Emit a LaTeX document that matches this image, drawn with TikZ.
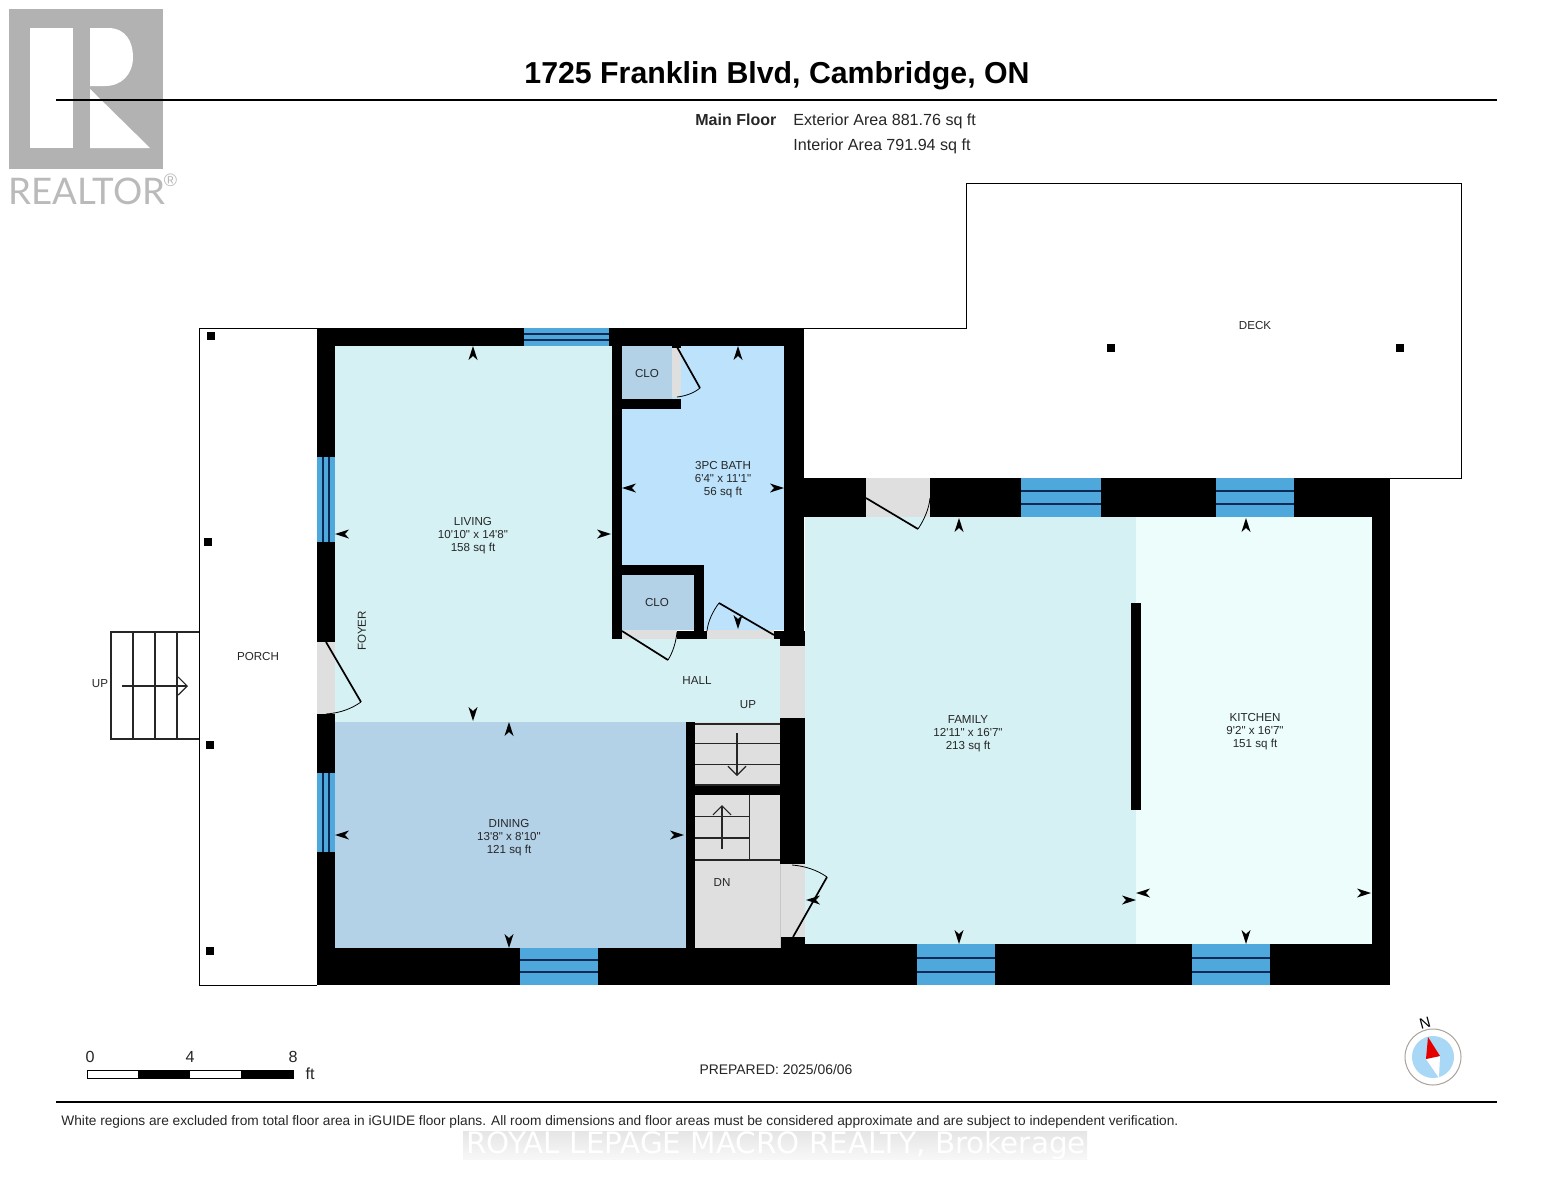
\documentclass[tikz,border=0pt]{standalone}
\usepackage{fontspec}
\newfontfamily\arialf{Liberation Sans}
\newfontfamily\latof{Lato}
\newfontfamily\dejaf{DejaVu Sans}
\definecolor{livc}{HTML}{D6F1F3}
\definecolor{dinc}{HTML}{B3D2E8}
\definecolor{bathc}{HTML}{BDE3FC}
\definecolor{kitc}{HTML}{ECFDFC}
\definecolor{grayc}{HTML}{DFDFDF}
\definecolor{winc}{HTML}{4EA8DC}
\definecolor{winl}{HTML}{0B2A55}
\definecolor{logoc}{HTML}{B2B2B2}
\definecolor{compc}{HTML}{A8D8F5}
\definecolor{ringc}{HTML}{A9A39A}
\tikzset{
  lab/.style={font=\arialf\fontsize{5.8}{6.6}\selectfont,align=center,inner sep=0pt,text=black!85},
  wall/.style={fill=black,draw=none},
  door/.style={draw=black,line width=.85pt},
  swing/.style={draw=black,line width=.4pt},
  stair/.style={draw=black!85,line width=.7pt},
  winline/.style={draw=winl,line width=.55pt},
  openhead/.style={-{Straight Barb[length=4.5pt,width=9pt,line width=.6pt]}},
  info/.style={font=\arialf\fontsize{8.05}{9}\selectfont,inner sep=0pt,text=black!85}
}
\usetikzlibrary{arrows.meta}
\newcommand\rc[5][]{\fill[#1] (#2,#3) rectangle (#4,#5);}
\newcommand\mk[4]{\fill[black] ({#1+7*#3},{#2+7*#4}) -- ({#1-7*#3+4.5*#4},{#2-7*#4-4.5*#3}) -- ({#1-3*#3},{#2-3*#4}) -- ({#1-7*#3-4.5*#4},{#2-7*#4+4.5*#3}) -- cycle;}
\newcommand\post[2]{\fill[black] (#1-4,#2-4) rectangle (#1+4,#2+4);}
\begin{document}
\begin{tikzpicture}[x=.5pt,y=-.5pt,line join=miter]
\useasboundingbox (0,0) rectangle (1553,1200);
\fill[white] (0,0) rectangle (1553,1200);
% logo
\fill[logoc] (9,9) rectangle (163,169);
\fill[white] (30,28) rectangle (73,148);
\fill[white] (90,28) -- (108,28) .. controls (126,28) and (133,42) .. (133,57) .. controls (133,74) and (122,86) .. (105,86) -- (90,86) -- cycle;
\fill[white] (90,89) -- (150,148) -- (90,148) -- cycle;
\node[anchor=west,inner sep=0pt,text=logoc!90,font=\latof\fontsize{18.3}{20}\selectfont] (realtor) at (8,191) {REALTOR};
\node[inner sep=0pt,text=logoc!90,font=\arialf\fontsize{9}{10}\selectfont] (reg) at (170.5,180) {®};
% header
\draw[black,line width=1.4pt] (56,100) -- (1497,100);
\node[inner sep=0pt,font=\arialf\bfseries\fontsize{15.15}{16}\selectfont] (title) at (777,75.5) {1725 Franklin Blvd, Cambridge, ON};
\node[info,anchor=west,font=\arialf\bfseries\fontsize{8}{9}\selectfont] (mainf) at (695,120) {Main Floor};
\node[info,anchor=west] (ext) at (793,121) {Exterior Area 881.76 sq ft};
\node[info,anchor=west] (int) at (793,146) {Interior Area 791.94 sq ft};
% deck and porch outlines
\draw[black,line width=.5pt] (804,328) -- (966,328) -- (966,183) -- (1461,183) -- (1461,478) -- (1390,478);
\draw[black,line width=.5pt] (317,328) -- (199,328) -- (199,985) -- (317,985);
% entry stair
\draw[stair] (199,632) -- (111,632) -- (111,739) -- (199,739);
\draw[stair] (133,632) -- (133,739) (155,632) -- (155,739) (177,632) -- (177,739);
\coordinate (ua) at (122,686); \coordinate (ub) at (188,686);
\draw[stair,openhead] (ua) -- (ub);
% posts
\post{211}{336}\post{208}{542}\post{210}{745}\post{210}{951}\post{1111}{348}\post{1400}{348}
% room fills
\rc[livc]{335}{346}{612}{722}
\rc[livc]{612}{639}{780}{722}
\rc[dinc]{335}{722}{686}{948}
\rc[bathc]{622}{346}{784}{630}
\rc[dinc]{622}{346}{672}{400}
\rc[dinc]{620}{575}{694}{630}
\rc[livc]{805}{517}{1136}{944}
\rc[kitc]{1136}{517}{1372}{944}
\rc[grayc]{695}{722}{780}{948}
% walls
\rc[wall]{317}{328}{804}{346}
\rc[wall]{317}{328}{335}{985}
\rc[wall]{317}{948}{805}{985}
\rc[wall]{805}{944}{1390}{985}
\rc[wall]{1372}{478}{1390}{985}
\rc[wall]{784}{478}{1390}{517}
\rc[wall]{784}{328}{804}{639}
\rc[wall]{780}{631}{805}{646}
\rc[wall]{612}{346}{622}{639}
\rc[wall]{622}{399}{681}{409}
\rc[wall]{672}{346}{681}{348}
\rc[wall]{622}{565}{704}{575}
\rc[wall]{694}{565}{704}{639}
\rc[wall]{677}{631}{707}{639}
\rc[wall]{774}{631}{784}{639}
\rc[wall]{780}{718}{805}{864}
\rc[wall]{780}{937}{805}{948}
\rc[wall]{686}{722}{695}{948}
\rc[wall]{695}{785}{780}{795}
\rc[wall]{1131}{603}{1141}{810}
% openings
\rc[grayc]{317}{642}{335}{714}
\rc[grayc]{672}{348}{681}{397}
\rc[grayc]{622}{630}{677}{639}
\rc[grayc]{707}{630}{774}{639}
\rc[grayc]{780}{646}{805}{718}
\rc[grayc]{780}{864}{805}{937}
\rc[grayc]{866}{478}{930}{517}
\draw[black!22,line width=.4pt] (780,864) -- (780,948);
% doors
\draw[door] (326,642) -- (361,702);
\draw[swing] (361,702) .. controls (351,709) and (340,713) .. (326,714);
\draw[door] (677,347) -- (700,388);
\draw[swing] (700,388) .. controls (694,393) and (686,396) .. (677,397);
\draw[door] (622,631) -- (668,660);
\draw[swing] (668,660) .. controls (673,652) and (676,642) .. (677,632);
\draw[door] (719,603) -- (774,635);
\draw[swing] (719,603) .. controls (713,611) and (708,621) .. (707,631);
\draw[door] (866,498) -- (918,529);
\draw[swing] (918,529) .. controls (924,520) and (929,509) .. (930,498);
\draw[door] (793,937) -- (827,877);
\draw[swing] (827,877) .. controls (817,870) and (805,866) .. (792,865);
% windows
\rc[winc]{524}{328}{609}{346}
\draw[winline] (524,334) -- (609,334) (524,340) -- (609,340);
\rc[winc]{317}{457}{335}{542}
\draw[winline] (323,457) -- (323,542) (329,457) -- (329,542);
\rc[winc]{317}{773}{335}{852}
\draw[winline] (323,773) -- (323,852) (329,773) -- (329,852);
\rc[winc]{1021}{478}{1101}{517}
\draw[winline] (1021,491) -- (1101,491) (1021,504) -- (1101,504);
\rc[winc]{1216}{478}{1294}{517}
\draw[winline] (1216,491) -- (1294,491) (1216,504) -- (1294,504);
\rc[winc]{520}{948}{598}{985}
\draw[winline] (520,960) -- (598,960) (520,972) -- (598,972);
\rc[winc]{917}{944}{995}{985}
\draw[winline] (917,958) -- (995,958) (917,972) -- (995,972);
\rc[winc]{1192}{944}{1270}{985}
\draw[winline] (1192,958) -- (1270,958) (1192,972) -- (1270,972);
% interior stairs
\draw[stair] (695,724) -- (780,724) (695,743.5) -- (780,743.5) (695,764.5) -- (780,764.5) (695,785) -- (780,785);
\coordinate (da) at (737,733); \coordinate (db) at (737,776);
\draw[stair,openhead] (da) -- (db);
\draw[stair] (749.5,795) -- (749.5,860) (695,816.5) -- (749.5,816.5) (695,838) -- (749.5,838) (695,860) -- (780,860);
\coordinate (ea) at (722,849); \coordinate (eb) at (722,805);
\draw[stair,openhead] (ea) -- (eb);
% dimension markers
\mk{473}{353}{0}{-1}\mk{342}{534}{-1}{0}\mk{604}{534}{1}{0}\mk{473}{714}{0}{1}
\mk{509}{729}{0}{-1}\mk{342}{835}{-1}{0}\mk{677}{835}{1}{0}\mk{509}{941}{0}{1}
\mk{738}{353}{0}{-1}\mk{629}{488}{-1}{0}\mk{777}{488}{1}{0}\mk{738}{622}{0}{1}
\mk{959}{525}{0}{-1}\mk{813}{900}{-1}{0}\mk{1129}{900}{1}{0}\mk{959}{937}{0}{1}
\mk{1246}{525}{0}{-1}\mk{1143}{893}{-1}{0}\mk{1364}{893}{1}{0}\mk{1246}{937}{0}{1}
% labels
\node[lab] (living) at (473,535.5) {LIVING\\10'10" x 14'8"\\158 sq ft};
\node[lab] (dining) at (509,837.5) {DINING\\13'8" x 8'10"\\121 sq ft};
\node[lab] (bath) at (723,479.5) {3PC BATH\\6'4" x 11'1"\\56 sq ft};
\node[lab] (family) at (968,733.5) {FAMILY\\12'11" x 16'7"\\213 sq ft};
\node[lab] (kitchen) at (1255,731.5) {KITCHEN\\9'2" x 16'7"\\151 sq ft};
\node[lab] (clo1) at (647,373) {CLO};
\node[lab] (clo2) at (657,602) {CLO};
\node[lab] (foyer) at (362,631) [rotate=90] {FOYER};
\node[lab] (hall) at (697,680) {HALL};
\node[lab] (up2) at (748,705) {UP};
\node[lab] (dn) at (722,882) {DN};
\node[lab] (porch) at (258,656) {PORCH};
\node[lab] (up1) at (100,684) {UP};
\node[lab] (deck) at (1255,325) {DECK};
% scale
\fill[white] (87,1070) rectangle (138,1078);
\draw[black,line width=.4pt] (87.5,1070.5) rectangle (293,1078);
\fill[black] (138,1070) rectangle (190,1078);
\fill[black] (241,1070) rectangle (293,1078);
\node[info] (s0) at (90,1057) {0};
\node[info] (s4) at (190,1057) {4};
\node[info] (s8) at (293,1057) {8};
\node[info] (sft) at (310,1074) {ft};
\node[info,font=\arialf\fontsize{6.95}{8}\selectfont] (prep) at (776,1070) {PREPARED: 2025/06/06};
% compass
\fill[white] (1433,1057) circle (28);
\draw[ringc,line width=.5pt] (1433,1057) circle (28);
\fill[compc] (1433,1057) circle (21);
\fill[white] (1426,1059) -- (1440,1056) -- (1439,1078) -- cycle;
\fill[red!90!black] (1428,1037) -- (1440,1056) -- (1426,1059) -- cycle;
\node[inner sep=0pt,rotate=15,font=\arialf\fontsize{7.5}{8}\selectfont] (north) at (1425,1023) {N};
% footer
\draw[black,line width=1.4pt] (56,1102) -- (1497,1102);
\node[info,anchor=west,font=\arialf\fontsize{6.86}{8}\selectfont] (disc) at (61,1122) {White regions are excluded from total floor area in iGUIDE floor plans. All room dimensions and floor areas must be considered approximate and are subject to independent verification.};
\shade[top color=black!10,middle color=black!27,bottom color=black!3] (463,1131) rectangle (1087,1159);
\node[inner sep=0pt,text=white,font=\dejaf\fontsize{14.7}{16}\selectfont] (wm) at (776,1145.5) {ROYAL LEPAGE MACRO REALTY, Brokerage};
\end{tikzpicture}
\end{document}
